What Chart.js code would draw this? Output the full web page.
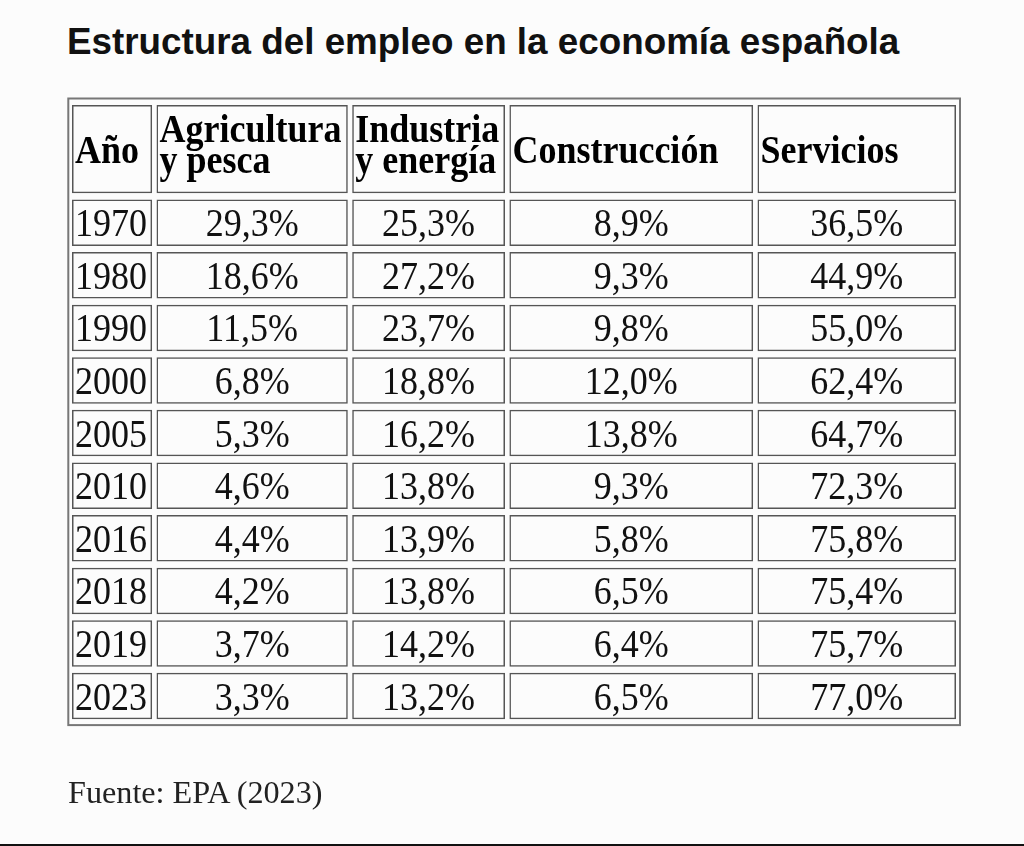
<!DOCTYPE html>
<html lang="es">
<head>
<meta charset="utf-8">
<title>Estructura del empleo en la economía española</title>
<script src="https://cdn.jsdelivr.net/npm/chart.js@4.4.1/dist/chart.umd.min.js"></script>
<style>
  html, body { margin: 0; padding: 0; background: #fcfcfc; }
  #pagina { position: relative; width: 1024px; height: 846px; overflow: hidden; }
  #titulo { position: absolute; left: 67px; top: 24px; font: bold 36.8px/1 "Liberation Sans", Arial, sans-serif; color: #111; white-space: nowrap; }
  #fuente { position: absolute; left: 68px; top: 776px; font: 32.2px/1 "Liberation Serif", "Times New Roman", serif; color: #222; white-space: nowrap; }
  #linea  { position: absolute; left: 0; top: 844px; width: 1024px; height: 2px; background: #111; }
  canvas  { position: absolute; left: 0; top: 0; }
</style>
</head>
<body>
<div id="pagina">
  <div id="titulo">Estructura del empleo en la economía española</div>
  <canvas id="tabla" width="1024" height="846"></canvas>
  <div id="fuente">Fuente: EPA (2023)</div>
  <div id="linea"></div>
</div>
<script>
// ── Datos (EPA, % del empleo total) ───────────────────────────────
const ANIOS        = ['1970', '1980', '1990', '2000', '2005', '2010', '2016', '2018', '2019', '2023'];
const AGRICULTURA  = [29.3, 18.6, 11.5, 6.8, 5.3, 4.6, 4.4, 4.2, 3.7, 3.3];
const INDUSTRIA    = [25.3, 27.2, 23.7, 18.8, 16.2, 13.8, 13.9, 13.8, 14.2, 13.2];
const CONSTRUCCION = [8.9, 9.3, 9.8, 12.0, 13.8, 9.3, 5.8, 6.5, 6.4, 6.5];
const SERVICIOS    = [36.5, 44.9, 55.0, 62.4, 64.7, 72.3, 75.8, 75.4, 75.7, 77.0];
const CABECERAS    = [['Año'], ['Agricultura', 'y pesca'], ['Industria', 'y energía'], ['Construcción'], ['Servicios']];

// ── Maqueta de la tabla (px) ──────────────────────────────────────
const ANCHO_COL = [84.5, 195.7, 157.2, 248.1, 202.9];
const HUECO     = 2.2;      // separación entre celdas
const ALTO_CAB  = 94.4;     // banda de la fila de cabecera
const ALTO_FILA = 52.6;     // banda de cada fila de datos

const fmt = v => v.toFixed(1).replace('.', ',') + '%';

// bordes acumulados de cada columna en unidades del eje x
const inicio = [0];
ANCHO_COL.forEach((w, i) => inicio.push(inicio[i] + w));
const celda = c => [inicio[c] + HUECO, inicio[c + 1] - HUECO];

const columnas = [ANIOS, AGRICULTURA.map(fmt), INDUSTRIA.map(fmt), CONSTRUCCION.map(fmt), SERVICIOS.map(fmt)];

// estilo común de las celdas (borde gris, sin relleno)
const estiloCelda = {
    backgroundColor: 'rgba(0,0,0,0)',
    borderColor    : '#555',
    borderWidth    : 1.5,
    borderSkipped  : false,
    grouped        : false,
    categoryPercentage: 1
};

// una serie por columna (filas de datos) + una serie para la cabecera
const series = columnas.map((textos, c) => Object.assign({
    label   : CABECERAS[c].join(' '),
    yAxisID : 'y',
    data    : ANIOS.map(a => ({ y: a, x: celda(c) })),
    textos  : textos,
    alinear : c === 0 ? 'left' : 'center',
    negrita : false,
    barPercentage: 46.5 / ALTO_FILA
}, estiloCelda));
series.push(Object.assign({
    label   : 'Cabecera',
    yAxisID : 'yCab',
    data    : CABECERAS.map((_, c) => ({ y: 'cab', x: celda(c) })),
    textos  : CABECERAS,
    alinear : 'left',
    negrita : true,
    barPercentage: 88.3 / ALTO_CAB
}, estiloCelda));

// ── Plugin: marco exterior y texto de cada celda ─────────────────
const textoCeldas = {
    id: 'textoCeldas',
    beforeDatasetsDraw(chart) {
        const { ctx, chartArea: a } = chart;
        ctx.save();
        ctx.strokeStyle = '#777';
        ctx.lineWidth = 2;
        ctx.strokeRect(a.left - 1.5, a.top - 3.5, a.width + 3.3, a.height + 6.2);
        ctx.restore();
    },
    afterDatasetsDraw(chart) {
        const ctx = chart.ctx;
        chart.data.datasets.forEach((ds, d) => {
            chart.getDatasetMeta(d).data.forEach((bar, i) => {
                const izq = Math.min(bar.x, bar.base);
                const der = Math.max(bar.x, bar.base);
                let lineas = ds.textos[i];
                if (!Array.isArray(lineas)) lineas = [lineas];
                ctx.save();
                ctx.font = (ds.negrita ? 'bold ' : '') + '36px "Liberation Serif", "Times New Roman", serif';
                ctx.fillStyle = ds.negrita ? '#000' : '#111';
                ctx.textAlign = ds.alinear;
                ctx.textBaseline = 'alphabetic';
                const tx = ds.alinear === 'center' ? (izq + der) / 2 : izq + 3;
                const base = lineas.length > 1 ? 8.5 : 13.5;
                lineas.forEach((t, k) => {
                    const ty = bar.y + base + (k - (lineas.length - 1) / 2) * 30.5;
                    ctx.save();
                    ctx.translate(tx, ty);
                    ctx.scale(1, 1.12);
                    ctx.fillText(t, 0, 0);
                    ctx.restore();
                });
                ctx.restore();
            });
        });
    }
};

new Chart(document.getElementById('tabla'), {
    type: 'bar',
    data: { datasets: series },
    plugins: [textoCeldas],
    options: {
        responsive : false,
        animation  : false,
        events     : [],
        indexAxis  : 'y',
        layout: { padding: { left: 69.8, right: 1024 - 69.8 - inicio[inicio.length - 1], top: 102, bottom: 846 - 102 - ALTO_CAB - ALTO_FILA * ANIOS.length } },
        plugins: { colors: { enabled: false }, legend: { display: false }, tooltip: { enabled: false }, title: { display: false } },
        scales: {
            x   : { type: 'linear', min: 0, max: inicio[inicio.length - 1], display: false },
            y   : { type: 'category', labels: ANIOS, position: 'left', stack: 'tabla', stackWeight: ALTO_FILA * ANIOS.length, offset: true, display: false },
            yCab: { type: 'category', labels: ['cab'], position: 'left', stack: 'tabla', stackWeight: ALTO_CAB, offset: true, display: false }
        }
    }
});
</script>
</body>
</html>
